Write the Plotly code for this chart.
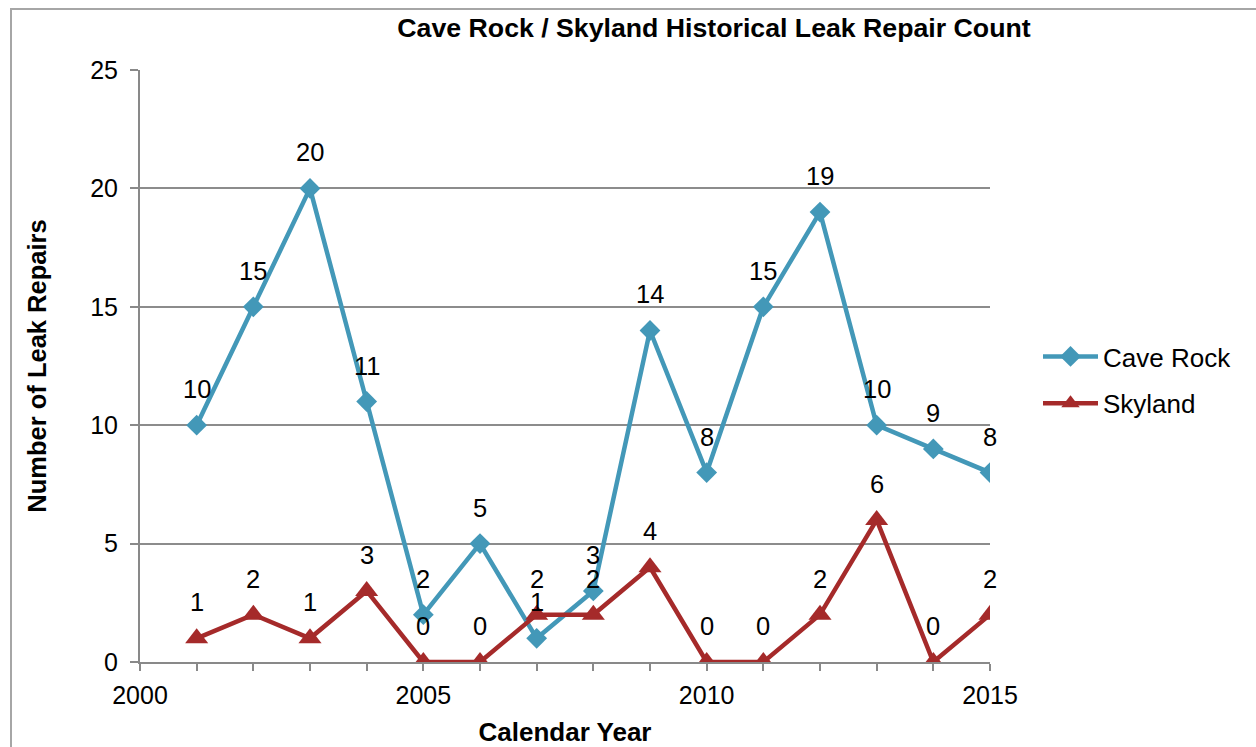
import plotly.graph_objects as go

years = [2001, 2002, 2003, 2004, 2005, 2006, 2007, 2008, 2009, 2010, 2011, 2012, 2013, 2014, 2015]
cave_rock = [10, 15, 20, 11, 2, 5, 1, 3, 14, 8, 15, 19, 10, 9, 8]
skyland = [1, 2, 1, 3, 0, 0, 2, 2, 4, 0, 0, 2, 6, 0, 2]

BLUE = "#4398B8"
RED = "#A52A2A"
GRAY = "#898989"
FONT = "Liberation Sans, Arial, sans-serif"

W, H = 1256, 747
L, T = 140, 70
PW, PH = 850, 592
R = W - L - PW
B = H - T - PH

fig = go.Figure()
fig.add_trace(go.Scatter(x=years, y=cave_rock, name="Cave Rock", mode="lines+markers",
                         legendgroup="a",
                         line=dict(color=BLUE, width=4.5),
                         marker=dict(symbol="diamond", size=16, color=BLUE)))
fig.add_trace(go.Scatter(x=years, y=skyland, name="Skyland", mode="lines+markers",
                         legendgroup="b",
                         line=dict(color=RED, width=4.5),
                         marker=dict(symbol="triangle-up", size=20, color=RED)))

annotations = []
for series in (cave_rock, skyland):
    for x, y in zip(years, series):
        annotations.append(dict(x=x, y=y, text=str(y), showarrow=False, yshift=36,
                                xanchor="center", yanchor="middle",
                                font=dict(family=FONT, size=25.5, color="black")))

fig.update_layout(
    width=W, height=H,
    margin=dict(l=L, r=R, t=T, b=B, autoexpand=False),
    paper_bgcolor="white", plot_bgcolor="white",
    font=dict(family=FONT, size=25, color="black"),
    title=dict(text="<b>Cave Rock / Skyland Historical Leak Repair Count</b>",
               x=714 / W, xref="container", xanchor="center",
               y=1 - 28 / H, yref="container", yanchor="middle",
               font=dict(family=FONT, size=26.7, color="black")),
    showlegend=True,
    legend=dict(x=(1038 - L) / PW, y=(T + PH - 380) / PH, xanchor="left", yanchor="middle",
                font=dict(family=FONT, size=26, color="black"),
                bgcolor="rgba(0,0,0,0)", tracegroupgap=10, itemwidth=55),
    annotations=annotations,
    shapes=[dict(type="rect", xref="paper", yref="paper",
                 x0=(11 - L) / PW, x1=(W + 40 - L) / PW,
                 y0=-(B + 40) / PH, y1=(T + PH - 9) / PH,
                 line=dict(color="#A6A6A6", width=2), layer="below")],
)
fig.update_xaxes(range=[2000, 2015], tickvals=[2000, 2005, 2010, 2015],
                 ticks="outside", ticklen=7, tickcolor=GRAY, tickwidth=2,
                 minor=dict(dtick=1, tick0=2000, ticks="outside", ticklen=7,
                            tickcolor=GRAY, tickwidth=2),
                 showline=True, linecolor=GRAY, linewidth=2, showgrid=False,
                 zeroline=False, tickfont=dict(size=25), ticklabelstandoff=3,
                 title=dict(text="<b>Calendar Year</b>", standoff=18,
                            font=dict(family=FONT, size=26, color="black")))
fig.update_yaxes(range=[0, 25], dtick=5, ticks="outside", ticklen=8,
                 tickcolor=GRAY, tickwidth=2,
                 showline=True, linecolor=GRAY, linewidth=2,
                 showgrid=True, gridcolor="#8C8C8C", gridwidth=1.5, zeroline=False,
                 tickfont=dict(size=25), ticklabelstandoff=7,
                 title=dict(text="<b>Number of Leak Repairs</b>", standoff=36,
                            font=dict(family=FONT, size=25.5, color="black")))

fig.write_html("out.html",
               config={"displayModeBar": False},
               post_script="document.body.style.margin='0px';document.body.style.overflow='hidden';")
